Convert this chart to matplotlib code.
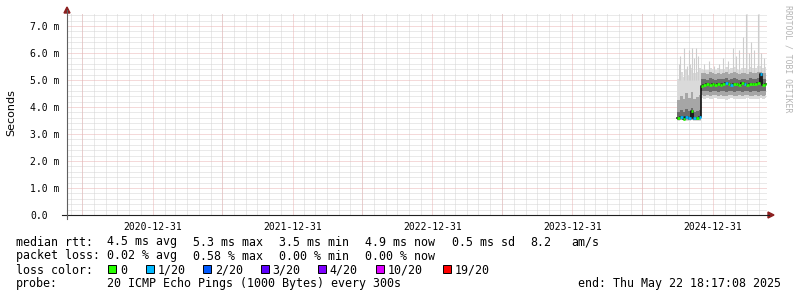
import numpy as np
import pandas as pd
import matplotlib
matplotlib.use('Agg')
import matplotlib.pyplot as plt
import matplotlib.dates as mdates
from matplotlib.patches import Rectangle, Polygon
from matplotlib.lines import Line2D
from matplotlib.ticker import MultipleLocator, FixedLocator

# ---- data (ms) ----
dates = ['2024-10-01', '2024-10-08', '2024-10-15', '2024-10-22', '2024-10-29',
         '2024-11-05', '2024-11-12', '2024-11-19', '2024-11-26',
         '2024-12-01', '2024-12-08', '2024-12-15', '2024-12-22', '2024-12-29',
         '2025-01-05', '2025-01-12', '2025-01-19', '2025-01-26', '2025-02-02',
         '2025-02-09', '2025-02-16', '2025-02-23', '2025-03-02', '2025-03-09',
         '2025-03-16', '2025-03-23', '2025-03-30', '2025-04-06', '2025-04-13',
         '2025-04-20', '2025-04-27', '2025-05-04', '2025-05-11', '2025-05-18']
last_edge = '2025-05-21'
median = [3.58, 3.62, 3.57, 3.64, 3.60, 3.85, 3.61, 3.58, 3.63,
          4.78, 4.82, 4.84, 4.80, 4.86, 4.83, 4.85, 4.80, 4.86, 4.88,
          4.84, 4.82, 4.86, 4.85, 4.83, 4.87, 4.85, 4.82, 4.86, 4.84,
          4.85, 4.88, 5.22, 4.83, 4.86]
loss = [0, 1, 0, 1, 1, 0, 1, 0, 1,
        0, 0, 0, 0, 0, 0, 0, 0, 0, 1,
        0, 1, 0, 0, 0, 0, 1, 0, 0, 0,
        0, 0, 1, 0, 0]
smoke_lo = [3.48, 3.50, 3.47, 3.49, 3.48, 3.50, 3.47, 3.49, 3.48,
            4.35, 4.30, 4.32, 4.28, 4.30, 4.33, 4.29, 4.31, 4.30, 4.27,
            4.30, 4.32, 4.28, 4.30, 4.31, 4.29, 4.30, 4.33, 4.28, 4.30,
            4.31, 4.29, 4.32, 4.30, 4.33]
mid_lo = [3.50, 3.52, 3.50, 3.52, 3.50, 3.53, 3.50, 3.51, 3.52,
          4.45, 4.42, 4.44, 4.40, 4.43, 4.45, 4.41, 4.43, 4.42, 4.40,
          4.43, 4.44, 4.41, 4.42, 4.44, 4.41, 4.43, 4.45, 4.40, 4.42,
          4.43, 4.41, 4.44, 4.42, 4.45]
dark_lo = [3.52, 3.54, 3.52, 3.55, 3.53, 3.56, 3.52, 3.53, 3.54,
           4.60, 4.58, 4.60, 4.56, 4.59, 4.61, 4.57, 4.60, 4.58, 4.56,
           4.59, 4.60, 4.57, 4.58, 4.60, 4.57, 4.59, 4.61, 4.56, 4.58,
           4.59, 4.57, 4.60, 4.58, 4.61]
dark_hi = [3.80, 3.88, 3.82, 3.92, 3.85, 3.98, 3.82, 3.86, 3.90,
           5.02, 5.05, 5.01, 5.06, 5.03, 5.00, 5.05, 5.02, 5.04, 5.07,
           5.01, 5.03, 5.06, 5.02, 5.00, 5.05, 5.03, 5.01, 5.06, 5.02,
           5.04, 5.07, 5.10, 5.03, 5.05]
mid_hi = [4.25, 4.40, 4.28, 4.50, 4.35, 4.55, 4.30, 4.38, 4.45,
          5.24, 5.27, 5.22, 5.29, 5.24, 5.21, 5.27, 5.23, 5.26, 5.30,
          5.22, 5.25, 5.28, 5.24, 5.21, 5.27, 5.25, 5.22, 5.28, 5.24,
          5.26, 5.29, 5.31, 5.25, 5.27]
smoke_hi = [5.05, 5.30, 5.10, 5.40, 5.20, 5.45, 5.25, 5.30, 5.45,
            5.42, 5.38, 5.36, 5.45, 5.40, 5.37, 5.44, 5.39, 5.42, 5.48,
            5.40, 5.44, 5.47, 5.42, 5.38, 5.46, 5.43, 5.40, 5.48, 5.44,
            5.46, 5.50, 5.52, 5.45, 5.48]
spike_dates = ['2024-10-04', '2024-10-09', '2024-10-17', '2024-10-25', '2024-10-30',
               '2024-11-04', '2024-11-09', '2024-11-14', '2024-11-19', '2024-11-25',
               '2024-12-10', '2024-12-23', '2025-01-05', '2025-01-18', '2025-01-29',
               '2025-02-11', '2025-02-24', '2025-03-04', '2025-03-12', '2025-03-20',
               '2025-03-30', '2025-04-06', '2025-04-11', '2025-04-19', '2025-04-29',
               '2025-05-07', '2025-05-15']
spike_top = [5.6, 5.9, 6.2, 5.5, 6.1, 5.6, 6.2, 5.8, 6.2, 5.9,
             5.6, 5.7, 5.5, 5.6, 5.8, 5.7, 6.2, 5.9, 6.1, 6.6,
             7.45, 6.0, 6.4, 6.1, 7.45, 6.0, 5.8]

loss_labels = ['0', '1/20', '2/20', '3/20', '4/20', '10/20', '19/20']
loss_colors = ['#26ff00', '#00b8ff', '#0059ff', '#5e00ff', '#7e00ff', '#dd00ff', '#ff0000']

year_ticks = ['2021-01-01', '2022-01-01', '2023-01-01', '2024-01-01', '2025-01-01']
year_labels = ['2020-12-31', '2021-12-31', '2022-12-31', '2023-12-31', '2024-12-31']
y_labels = ['0.0', '1.0 m', '2.0 m', '3.0 m', '4.0 m', '5.0 m', '6.0 m', '7.0 m']

end_time = pd.Timestamp('2025-05-22 18:17:08')
start_time = end_time - pd.Timedelta(days=1826.25)

# ---- figure in pixel units ----
W, H = 797, 297
def fx(x): return x / W
def fy(y): return 1 - y / H

fig = plt.figure(figsize=(W / 100, H / 100), dpi=100)
ax = fig.add_axes([fx(67), fy(215), 700 / W, 202 / H])
for s in ax.spines.values():
    s.set_visible(False)

t = pd.to_datetime(dates)
edges = pd.to_datetime(dates[1:] + [last_edge])
tt = list(t) + [pd.Timestamp(last_edge)]
def ext(a): return list(a) + [a[-1]]

ax.fill_between(tt, ext(smoke_lo), ext(smoke_hi), step='post', color='#dadada', lw=0, zorder=2)
ax.vlines(pd.to_datetime(spike_dates), 5.0, spike_top, color='#cdcdcd', lw=0.8, zorder=2)
ax.fill_between(tt, ext(mid_lo), ext(mid_hi), step='post', color='#a6a6a6', lw=0, zorder=3)
ax.fill_between(tt, ext(dark_lo), ext(dark_hi), step='post', color='#6c6c6c', lw=0, zorder=4)
ax.step(tt, ext(median), where='post', color='#101010', lw=1.2, zorder=5)
ax.hlines(median, t, edges, colors=[loss_colors[l] for l in loss], lw=2.0, zorder=6)

ax.set_xlim(start_time, end_time)
ax.set_ylim(0, 7.48)

# grids
grid_minor = dict(color='#d4d4d4', lw=0.72, ls=(0, (1, 1)))
grid_major = dict(color='#eab4b4', lw=0.72, ls=(0, (1, 1)))
ax.xaxis.set_minor_locator(mdates.MonthLocator())
ax.xaxis.set_major_locator(FixedLocator(mdates.date2num(pd.to_datetime(year_ticks))))
ax.set_xticklabels(year_labels)
ax.yaxis.set_minor_locator(MultipleLocator(0.2))
ax.set_yticks(range(len(y_labels)), y_labels)
ax.grid(which='minor', zorder=1, **grid_minor)
ax.grid(which='major', axis='y', zorder=1, **grid_major)
for d in pd.date_range('2020-07-01', '2025-01-01', freq='6MS'):
    ax.axvline(d, zorder=1, **grid_major)
ax.set_axisbelow(True)

ax.tick_params(which='both', length=0)
ax.tick_params(axis='x', pad=5, labelsize=7)
ax.tick_params(axis='y', pad=26.5, labelsize=7)
for lab in ax.get_xticklabels() + ax.get_yticklabels():
    lab.set_family('DejaVu Sans Mono')
for lab in ax.get_yticklabels():
    lab.set_horizontalalignment('left')

# axes lines + arrows
fig.add_artist(Line2D([fx(62), fx(769)], [fy(215), fy(215)], color='#202020', lw=0.8))
fig.add_artist(Line2D([fx(67), fx(67)], [fy(219), fy(10)], color='#606060', lw=0.8))
fig.add_artist(Polygon([(fx(768), fy(212)), (fx(774), fy(215)), (fx(768), fy(218))],
                       closed=True, color='#8c2020', transform=fig.transFigure))
fig.add_artist(Polygon([(fx(64), fy(13)), (fx(67), fy(7)), (fx(70), fy(13))],
                       closed=True, color='#8c2020', transform=fig.transFigure))

fig.text(fx(11), fy(113), 'Seconds', rotation=90, ha='center', va='center',
         fontsize=8, family='DejaVu Sans')
fig.text(fx(788), fy(5), 'RRDTOOL / TOBI OETIKER', rotation=-90, ha='center', va='top',
         fontsize=5.9, family='DejaVu Sans Mono', color='#b4b4b4')

# legend
mono = dict(fontsize=8.4, family='DejaVu Sans Mono', va='baseline')
fig.text(fx(16), fy(245.5), 'median rtt:', **mono)
for x, s in zip([107.3, 193.3, 279.3, 365.3, 451.7, 530, 571.7],
                ['4.5 ms avg', '5.3 ms max', '3.5 ms min', '4.9 ms now', '0.5 ms sd', '8.2', 'am/s']):
    fig.text(fx(x), fy(245.5), s, **mono)
fig.text(fx(16), fy(259.5), 'packet loss:', **mono)
for x, s in zip([107.3, 193.3, 279.3, 365.3],
                ['0.02 % avg', '0.58 % max', '0.00 % min', '0.00 % now']):
    fig.text(fx(x), fy(259.5), s, **mono)
fig.text(fx(16), fy(273.5), 'loss color:', **mono)
for x, lab, c in zip([108.3, 145.7, 203.3, 261, 318.3, 375.7, 442.7], loss_labels, loss_colors):
    fig.add_artist(Rectangle((fx(x), fy(273)), 8 / W, 8 / H, facecolor=c,
                             edgecolor='black', lw=0.7, transform=fig.transFigure))
    fig.text(fx(x + 11.5), fy(273.5), lab, **mono)
fig.text(fx(16), fy(287.5), 'probe:', **mono)
fig.text(fx(107.3), fy(287.5), '20 ICMP Echo Pings (1000 Bytes) every 300s', **mono)
fig.text(fx(578.3), fy(287.5), 'end: Thu May 22 18:17:08 2025', **mono)

fig.savefig('out.png', dpi=100, facecolor='white')
